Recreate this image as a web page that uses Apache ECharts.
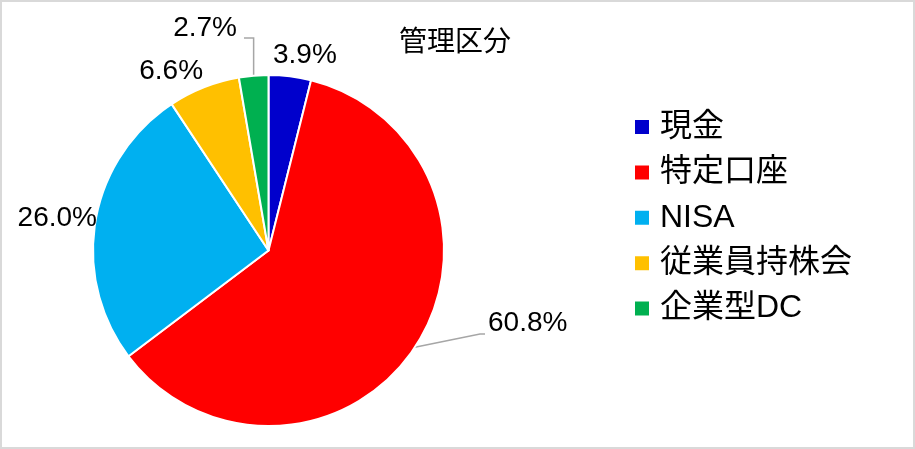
<!DOCTYPE html>
<html>
<head>
<meta charset="utf-8">
<script src="https://cdn.jsdelivr.net/npm/echarts@6/dist/echarts.min.js"></script>
<style>
  html, body { margin: 0; padding: 0; background: #fff; }
  #chart { position: absolute; left: 0; top: 0; width: 915px; height: 449px; }
  #frame { position: absolute; left: 0; top: 0; width: 915px; height: 449px; box-sizing: border-box; border: 2px solid #d9d9d9; pointer-events: none; }
</style>
</head>
<body>
<div id="chart"></div>
<div id="frame"></div>
<script>
// ---- data ----
const titleText = '管理区分';
const categories = ['現金', '特定口座', 'NISA', '従業員持株会', '企業型DC'];
const shares = [3.9, 60.8, 26.0, 6.6, 2.7];

// ---- styles ----
const colors = ['#0000CC', '#FF0000', '#00B0F0', '#FFC000', '#00B050'];
// per-slice outside label placement (labelLine length / length2) and leader visibility
const labelPlacement = [
  { len: 21.5, len2: -24.6, line: false },
  { len: -44.1, len2: 104.9, line: true },
  { len: 17, len2: -23.2, line: false },
  { len: 17, len2: -10.4, line: false },
  { len: 47.8, len2: 7.6, line: true }
];

const chart = echarts.init(document.getElementById('chart'), null, { renderer: 'canvas' });

const data = categories.map((name, i) => ({
  name: name,
  value: shares[i],
  itemStyle: { color: colors[i] },
  labelLine: {
    show: labelPlacement[i].line,
    length: labelPlacement[i].len,
    length2: labelPlacement[i].len2,
    lineStyle: { color: '#a6a6a6', width: 1.5 }
  }
}));

chart.setOption({
  animation: false,
  backgroundColor: '#fff',
  title: {
    text: titleText,
    left: 399,
    top: 26.5,
    padding: 0,
    textStyle: {
      fontFamily: "'Noto Sans CJK JP'",
      fontSize: 28,
      lineHeight: 28,
      fontWeight: 'normal',
      color: '#000'
    }
  },
  legend: {
    orient: 'vertical',
    left: 633,
    top: 111,
    padding: 0,
    icon: 'rect',
    itemWidth: 16,
    itemHeight: 16,
    itemGap: 13.4,
    data: categories,
    textStyle: {
      fontFamily: "'Liberation Sans', 'Noto Sans CJK JP'",
      fontSize: 32,
      lineHeight: 32,
      color: '#000',
      padding: [0, 0, 0, 5]
    }
  },
  series: [{
    type: 'pie',
    center: [268.5, 250.5],
    radius: 175.5,
    startAngle: 90,
    clockwise: true,
    avoidLabelOverlap: false,
    itemStyle: { borderColor: '#fff', borderWidth: 2 },
    emphasis: { disabled: true },
    label: {
      show: true,
      position: 'outside',
      alignTo: 'none',
      distanceToLabelLine: 5,
      fontFamily: "'Liberation Sans'",
      fontSize: 28,
      lineHeight: 28,
      color: '#000',
      formatter: p => p.value.toFixed(1) + '%'
    },
    labelLayout: function (params) {
      const pts = params.labelLinePoints;
      const rect = params.labelRect;
      if (!pts || !rect) return {};
      const yc = rect.y + rect.height / 2;
      if (params.dataIndex === 4) {
        return {
          labelLinePoints: [pts[0], [pts[0][0], yc + 10], [rect.x + rect.width + 7, yc + 10]]
        };
      }
      if (params.dataIndex === 1) {
        return {
          labelLinePoints: [pts[0], [rect.x - 8, yc + 11], [rect.x - 3, yc + 11]]
        };
      }
      return {};
    },
    data: data
  }]
});
</script>
</body>
</html>
